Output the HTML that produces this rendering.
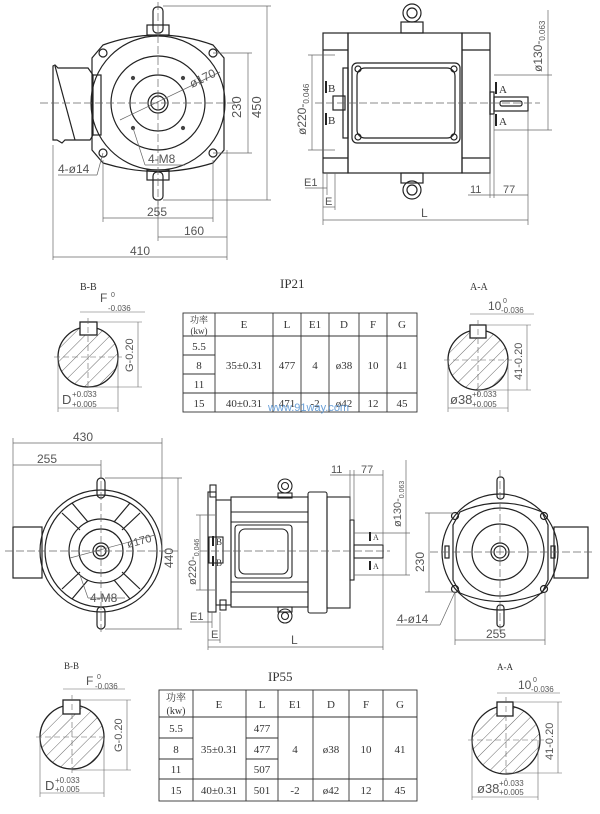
<!DOCTYPE html>
<html><head><meta charset="utf-8"><style>
html,body{margin:0;padding:0;background:#fff;}
svg{display:block;}
text{font-family:"Liberation Sans","Noto Sans CJK SC",sans-serif;fill:#555;}
.t{font-family:"Liberation Serif","Noto Serif CJK SC",serif;fill:#333;}
</style></head><body>
<svg width="600" height="814" viewBox="0 0 600 814" xmlns="http://www.w3.org/2000/svg">
<defs>
<pattern id="h" width="9" height="9" patternUnits="userSpaceOnUse" patternTransform="rotate(45)">
<line x1="0" y1="0" x2="0" y2="9" stroke="#444" stroke-width="0.8"/></pattern>
</defs>
<g fill="none" stroke="#222" stroke-width="1.2">
<!-- ===== TOP LEFT VIEW ===== -->
<rect x="153" y="7" width="10" height="26" rx="4"/>
<rect x="147" y="25" width="22" height="10"/>
<rect x="153" y="172" width="10" height="28" rx="4"/>
<rect x="147" y="170" width="22" height="10"/>
<path d="M103 45 Q158 25 213 45 L224 58 L224 150 L213 163 Q158 180 103 163 L92 150 L92 58 Z"/>
<circle cx="158" cy="103" r="67"/>
<circle cx="158" cy="103" r="47"/>
<circle cx="158" cy="103" r="28"/>
<circle cx="158" cy="103" r="10"/>
<circle cx="158" cy="103" r="7"/>
<circle cx="103" cy="53" r="4"/><circle cx="213" cy="53" r="4"/>
<circle cx="103" cy="153" r="4"/><circle cx="213" cy="153" r="4"/>
<path d="M93 75 L88 68 L58 68 L55 65 L53 66 L53 140 L57 140 L62 143 L65 140 L90 140 L93 135"/>
<path d="M55 66 L75 140"/>
<rect x="93" y="75" width="8" height="60"/>
</g>
<g stroke="#444" stroke-width="1.2" fill="#444">
<circle cx="133" cy="78" r="1.5"/><circle cx="183" cy="78" r="1.5"/>
<circle cx="133" cy="128" r="1.5"/><circle cx="183" cy="128" r="1.5"/>
</g>
<g fill="none" stroke="#666" stroke-width="0.7">
<line x1="40" y1="103" x2="235" y2="103" stroke-dasharray="8,3"/>
<line x1="158" y1="2" x2="158" y2="205" stroke-dasharray="8,3"/>
<line x1="213" y1="53" x2="252" y2="53"/><line x1="213" y1="153" x2="252" y2="153"/>
<line x1="248" y1="53" x2="248" y2="153"/>
<line x1="163" y1="6" x2="271" y2="6"/><line x1="163" y1="200" x2="271" y2="200"/>
<line x1="267" y1="6" x2="267" y2="200"/>
<line x1="103" y1="160" x2="103" y2="222"/><line x1="213" y1="160" x2="213" y2="222"/>
<line x1="103" y1="218" x2="213" y2="218"/>
<line x1="158" y1="200" x2="158" y2="241"/><line x1="227" y1="150" x2="227" y2="260"/>
<line x1="158" y1="237" x2="227" y2="237"/>
<line x1="53" y1="145" x2="53" y2="260"/>
<line x1="53" y1="257" x2="227" y2="257"/>
<line x1="58" y1="175" x2="97" y2="175"/><line x1="97" y1="175" x2="103" y2="153"/>
<line x1="145" y1="165" x2="185" y2="165"/><line x1="145" y1="165" x2="133" y2="128"/>
<line x1="120" y1="120" x2="220" y2="72"/>
</g>
<text x="241" y="118" font-size="13" transform="rotate(-90 241 118)">230</text>
<text x="261" y="118" font-size="13" transform="rotate(-90 261 118)">450</text>
<text x="147" y="216" font-size="12">255</text>
<text x="184" y="235" font-size="12">160</text>
<text x="130" y="255" font-size="12">410</text>
<text x="58" y="173" font-size="12">4-ø14</text>
<text x="148" y="163" font-size="12">4-M8</text>
<text x="192" y="88" font-size="12" transform="rotate(-26 192 88)">ø170</text>

<!-- ===== TOP RIGHT VIEW ===== -->
<g fill="none" stroke="#222" stroke-width="1.2">
<rect x="323" y="33" width="25" height="140"/>
<rect x="348" y="33" width="114" height="140"/>
<rect x="462" y="33" width="28" height="140"/>
<line x1="323" y1="50" x2="348" y2="50"/><line x1="323" y1="158" x2="348" y2="158"/>
<line x1="462" y1="50" x2="490" y2="50"/><line x1="462" y1="158" x2="490" y2="158"/>
<rect x="352" y="63" width="108" height="80" rx="5"/>
<rect x="357" y="68" width="98" height="70" rx="8"/>
<circle cx="358" cy="69" r="3"/><circle cx="454" cy="69" r="3"/>
<circle cx="358" cy="137" r="3"/><circle cx="454" cy="137" r="3"/>
<rect x="343" y="68" width="5" height="70"/>
<rect x="333" y="96" width="12" height="14"/>
<rect x="490" y="92" width="4" height="22"/>
<rect x="494" y="97" width="34" height="14"/>
<rect x="500" y="101" width="22" height="5" rx="2"/>
<circle cx="412" cy="13" r="9"/><circle cx="412" cy="13" r="5"/>
<rect x="401" y="22" width="22" height="11"/>
<circle cx="412" cy="190" r="9"/><circle cx="412" cy="190" r="5"/>
<rect x="401" y="173" width="22" height="10"/>
</g>
<g fill="none" stroke="#666" stroke-width="0.7">
<line x1="315" y1="103" x2="540" y2="103" stroke-dasharray="8,3"/>
<line x1="308" y1="55" x2="335" y2="55"/><line x1="308" y1="150" x2="335" y2="150"/>
<line x1="312" y1="55" x2="312" y2="150"/>
<line x1="494" y1="75" x2="552" y2="75"/><line x1="494" y1="130" x2="552" y2="130"/>
<line x1="548" y1="10" x2="548" y2="130"/>
<line x1="323" y1="173" x2="323" y2="225"/><line x1="327" y1="173" x2="327" y2="195"/>
<line x1="335" y1="173" x2="335" y2="210"/>
<line x1="305" y1="188" x2="327" y2="188"/><line x1="323" y1="207" x2="335" y2="207"/>
<line x1="323" y1="220" x2="528" y2="220"/>
<line x1="490" y1="115" x2="490" y2="198"/><line x1="494" y1="115" x2="494" y2="198"/>
<line x1="528" y1="111" x2="528" y2="225"/>
<line x1="468" y1="195" x2="528" y2="195"/>
</g>
<g fill="#222"><rect x="495" y="82" width="2" height="12"/><rect x="495" y="114" width="2" height="12"/>
<rect x="325" y="81" width="2" height="12"/><rect x="325" y="113" width="2" height="12"/></g>
<text x="499" y="93" font-size="11" class="t">A</text><text x="499" y="125" font-size="11" class="t">A</text>
<text x="328" y="92" font-size="11" class="t">B</text><text x="328" y="124" font-size="11" class="t">B</text>
<text x="306" y="135" font-size="12" transform="rotate(-90 306 135)">ø220-<tspan font-size="8" dy="3">0.046</tspan></text>
<text x="542" y="72" font-size="12" transform="rotate(-90 542 72)">ø130-<tspan font-size="8" dy="3">0.063</tspan></text>
<text x="304" y="186" font-size="11">E1</text>
<text x="325" y="205" font-size="11">E</text>
<text x="421" y="217" font-size="12">L</text>
<text x="470" y="193" font-size="11">11</text>
<text x="503" y="193" font-size="11">77</text>

<!-- ===== IP21 ===== -->
<text x="280" y="288" font-size="13" class="t">IP21</text>
<text x="80" y="290" font-size="10" class="t">B-B</text>
<text x="100" y="302" font-size="12">F</text><text x="111" y="297" font-size="7">0</text><text x="108" y="311" font-size="8">-0.036</text>
<circle cx="88" cy="357" r="30" fill="url(#h)" stroke="#222" stroke-width="1.3"/>
<rect x="80" y="322" width="17" height="13" fill="#fff" stroke="#222" stroke-width="1.3"/>
<g stroke="#666" stroke-width="0.6" fill="none">
<line x1="54" y1="357" x2="122" y2="357" stroke-dasharray="6,3"/><line x1="88" y1="318" x2="88" y2="392" stroke-dasharray="6,3"/>
<line x1="80" y1="312" x2="145" y2="312"/><line x1="97" y1="322" x2="142" y2="322"/><line x1="88" y1="387" x2="142" y2="387"/>
<line x1="138" y1="322" x2="138" y2="387"/>
<line x1="58" y1="357" x2="58" y2="412"/><line x1="118" y1="357" x2="118" y2="412"/><line x1="58" y1="408" x2="118" y2="408"/>
</g>
<text x="133" y="372" font-size="11" transform="rotate(-90 133 372)">G-0.20</text>
<text x="62" y="404" font-size="13">D</text><text x="72" y="397" font-size="8">+0.033</text><text x="72" y="407" font-size="8">+0.005</text>

<text x="470" y="290" font-size="10" class="t">A-A</text>
<text x="488" y="310" font-size="12">10</text><text x="503" y="303" font-size="7">0</text><text x="501" y="313" font-size="8">-0.036</text>
<circle cx="478" cy="360" r="30" fill="url(#h)" stroke="#222" stroke-width="1.3"/>
<rect x="470" y="325" width="16" height="13" fill="#fff" stroke="#222" stroke-width="1.3"/>
<g stroke="#666" stroke-width="0.6" fill="none">
<line x1="444" y1="360" x2="512" y2="360" stroke-dasharray="6,3"/><line x1="478" y1="320" x2="478" y2="395" stroke-dasharray="6,3"/>
<line x1="470" y1="314" x2="534" y2="314"/><line x1="486" y1="325" x2="531" y2="325"/><line x1="478" y1="390" x2="531" y2="390"/>
<line x1="527" y1="325" x2="527" y2="390"/>
<line x1="448" y1="360" x2="448" y2="412"/><line x1="508" y1="360" x2="508" y2="412"/><line x1="448" y1="408" x2="508" y2="408"/>
</g>
<text x="522" y="380" font-size="11" transform="rotate(-90 522 380)">41-0.20</text>
<text x="450" y="404" font-size="13">ø38</text><text x="472" y="397" font-size="8">+0.033</text><text x="472" y="407" font-size="8">+0.005</text>

<g stroke="#333" stroke-width="0.9" fill="none">
<rect x="183" y="313" width="234" height="99"/>
<line x1="183" y1="336" x2="417" y2="336"/><line x1="183" y1="393" x2="417" y2="393"/>
<line x1="183" y1="355" x2="215" y2="355"/><line x1="183" y1="374" x2="215" y2="374"/>
<line x1="215" y1="313" x2="215" y2="412"/><line x1="273" y1="313" x2="273" y2="412"/>
<line x1="301" y1="313" x2="301" y2="412"/><line x1="329" y1="313" x2="329" y2="412"/>
<line x1="359" y1="313" x2="359" y2="412"/><line x1="387" y1="313" x2="387" y2="412"/>
</g>
<g class="t" font-size="11" text-anchor="middle">
<text class="t" x="199" y="323" font-size="9">功率</text><text class="t" x="199" y="334" font-size="9">(kw)</text>
<text class="t" x="244" y="328">E</text><text class="t" x="287" y="328">L</text><text class="t" x="315" y="328">E1</text>
<text class="t" x="344" y="328">D</text><text class="t" x="373" y="328">F</text><text class="t" x="402" y="328">G</text>
<text class="t" x="199" y="350">5.5</text><text class="t" x="199" y="369">8</text><text class="t" x="199" y="388">11</text><text class="t" x="199" y="407">15</text>
<text class="t" x="244" y="369">35±0.31</text><text class="t" x="287" y="369">477</text><text class="t" x="315" y="369">4</text>
<text class="t" x="344" y="369">ø38</text><text class="t" x="373" y="369">10</text><text class="t" x="402" y="369">41</text>
<text class="t" x="244" y="407">40±0.31</text><text class="t" x="287" y="407">471</text><text class="t" x="315" y="407">-2</text>
<text class="t" x="344" y="407">ø42</text><text class="t" x="373" y="407">12</text><text class="t" x="402" y="407">45</text>
</g>
<text x="268" y="411" font-size="11" style="fill:#6aa0d8">www.91way.com</text>

<!-- ===== BOTTOM LEFT VIEW ===== -->
<g fill="none" stroke="#222" stroke-width="1.2">
<rect x="13" y="527" width="29" height="51"/>
<rect x="97" y="478" width="8" height="20" rx="4"/>
<rect x="97" y="607" width="8" height="22" rx="4"/>
<circle cx="101" cy="551" r="61"/>
<circle cx="101" cy="551" r="56"/>
<circle cx="101" cy="551" r="32"/>
<circle cx="101" cy="551" r="22"/>
<circle cx="101" cy="551" r="8"/><circle cx="101" cy="551" r="5"/>
<path d="M62 513 L80 530 M72 503 L88 522 M140 513 L122 530 M130 503 L114 522 M62 589 L80 572 M72 599 L88 580 M140 589 L122 572 M130 599 L114 580"/>
</g>
<g fill="none" stroke="#666" stroke-width="0.7">
<line x1="5" y1="551" x2="180" y2="551" stroke-dasharray="8,3"/>
<line x1="101" y1="470" x2="101" y2="635" stroke-dasharray="8,3"/>
<line x1="13" y1="438" x2="13" y2="527"/><line x1="162" y1="438" x2="162" y2="551"/>
<line x1="13" y1="443" x2="162" y2="443"/>
<line x1="101" y1="460" x2="101" y2="478"/><line x1="13" y1="465" x2="101" y2="465"/>
<line x1="105" y1="478" x2="182" y2="478"/><line x1="105" y1="629" x2="182" y2="629"/>
<line x1="178" y1="478" x2="178" y2="629"/>
<line x1="88" y1="598" x2="125" y2="598"/><line x1="88" y1="598" x2="80" y2="575"/>
<line x1="70" y1="558" x2="155" y2="535"/>
</g>
<text x="73" y="441" font-size="12">430</text>
<text x="37" y="463" font-size="12">255</text>
<text x="173" y="568" font-size="12" transform="rotate(-90 173 568)">440</text>
<text x="90" y="602" font-size="12">4-M8</text>
<text x="128" y="548" font-size="11" transform="rotate(-15 128 548)">ø170</text>

<!-- ===== BOTTOM MIDDLE VIEW ===== -->
<g fill="none" stroke="#222" stroke-width="1.1">
<rect x="208" y="492" width="8" height="120"/>
<rect x="210" y="485" width="6" height="12"/><rect x="220" y="600" width="6" height="10"/>
<rect x="216" y="500" width="15" height="105"/>
<rect x="231" y="497" width="77" height="110"/>
<line x1="231" y1="512" x2="308" y2="512"/><line x1="231" y1="522" x2="308" y2="522"/>
<line x1="231" y1="582" x2="308" y2="582"/><line x1="231" y1="592" x2="308" y2="592"/>
<rect x="235" y="525" width="57" height="53" rx="3"/>
<rect x="239" y="529" width="49" height="45" rx="6"/>
<rect x="209" y="537" width="14" height="26"/>
<rect x="308" y="492" width="19" height="121" rx="2"/>
<rect x="327" y="497" width="23" height="111"/>
<rect x="350" y="520" width="4" height="60"/>
<rect x="354" y="545" width="29" height="13"/>
<circle cx="285" cy="486" r="7"/><circle cx="285" cy="486" r="3.5"/>
<rect x="278" y="493" width="14" height="5"/>
<circle cx="285" cy="616" r="7"/><circle cx="285" cy="616" r="3.5"/>
<rect x="278" y="607" width="14" height="5"/>
</g>
<g fill="none" stroke="#666" stroke-width="0.7">
<line x1="200" y1="551" x2="390" y2="551" stroke-dasharray="8,3"/>
<line x1="196" y1="515" x2="215" y2="515"/><line x1="196" y1="590" x2="215" y2="590"/>
<line x1="200" y1="515" x2="200" y2="590"/>
<line x1="354" y1="533" x2="410" y2="533"/><line x1="354" y1="575" x2="410" y2="575"/>
<line x1="406" y1="460" x2="406" y2="575"/>
<line x1="208" y1="612" x2="208" y2="650"/><line x1="212" y1="612" x2="212" y2="628"/><line x1="220" y1="612" x2="220" y2="643"/>
<line x1="190" y1="622" x2="212" y2="622"/><line x1="208" y1="640" x2="220" y2="640"/>
<line x1="208" y1="647" x2="383" y2="647"/>
<line x1="383" y1="558" x2="383" y2="650"/>
<line x1="350" y1="470" x2="350" y2="520"/><line x1="354" y1="470" x2="354" y2="520"/>
<line x1="383" y1="470" x2="383" y2="545"/>
<line x1="330" y1="475" x2="383" y2="475"/>
</g>
<g fill="#222"><rect x="369" y="532" width="2" height="9"/><rect x="369" y="561" width="2" height="9"/>
<rect x="212" y="536" width="2" height="10"/><rect x="212" y="556" width="2" height="10"/></g>
<text x="373" y="540" font-size="8" class="t">A</text><text x="373" y="569" font-size="8" class="t">A</text>
<text x="216" y="545" font-size="9" class="t">B</text><text x="216" y="566" font-size="9" class="t">B</text>
<text x="196" y="585" font-size="11" transform="rotate(-90 196 585)">ø220-<tspan font-size="7" dy="3">0.046</tspan></text>
<text x="401" y="527" font-size="11" transform="rotate(-90 401 527)">ø130-<tspan font-size="7" dy="3">0.063</tspan></text>
<text x="190" y="620" font-size="11">E1</text>
<text x="211" y="638" font-size="11">E</text>
<text x="291" y="644" font-size="12">L</text>
<text x="331" y="473" font-size="11">11</text>
<text x="361" y="473" font-size="11">77</text>

<!-- ===== BOTTOM RIGHT VIEW ===== -->
<g fill="none" stroke="#222" stroke-width="1.2">
<rect x="554" y="527" width="34" height="51"/>
<rect x="497" y="477" width="7" height="22" rx="3"/>
<rect x="497" y="605" width="7" height="22" rx="3"/>
<path d="M460 512 Q500 494 542 512 L548 525 L548 580 L542 593 Q500 610 460 593 L453 580 L453 525 Z"/>
<circle cx="500" cy="552" r="58"/>
<circle cx="500" cy="552" r="44"/>
<circle cx="500" cy="552" r="28"/>
<circle cx="500" cy="552" r="9"/><circle cx="500" cy="552" r="6"/>
<circle cx="455" cy="516" r="3.5"/><circle cx="544" cy="516" r="3.5"/>
<circle cx="455" cy="589" r="3.5"/><circle cx="544" cy="589" r="3.5"/>
<rect x="445" y="546" width="4" height="12"/><rect x="551" y="546" width="4" height="12"/>
</g>
<g fill="none" stroke="#666" stroke-width="0.7">
<line x1="430" y1="552" x2="595" y2="552" stroke-dasharray="8,3"/>
<line x1="500" y1="470" x2="500" y2="635" stroke-dasharray="8,3"/>
<line x1="425" y1="513" x2="455" y2="513"/><line x1="425" y1="592" x2="455" y2="592"/>
<line x1="429" y1="513" x2="429" y2="592"/>
<line x1="455" y1="592" x2="455" y2="645"/><line x1="545" y1="592" x2="545" y2="645"/>
<line x1="455" y1="640" x2="545" y2="640"/>
<line x1="396" y1="625" x2="440" y2="625"/><line x1="440" y1="625" x2="455" y2="592"/>
</g>
<text x="424" y="572" font-size="12" transform="rotate(-90 424 572)">230</text>
<text x="486" y="638" font-size="12">255</text>
<text x="397" y="623" font-size="12">4-ø14</text>

<!-- ===== IP55 ===== -->
<text x="268" y="681" font-size="13" class="t">IP55</text>
<text x="64" y="669" font-size="9" class="t">B-B</text>
<text x="86" y="685" font-size="12">F</text><text x="97" y="679" font-size="7">0</text><text x="95" y="689" font-size="8">-0.036</text>
<circle cx="72" cy="737" r="32" fill="url(#h)" stroke="#222" stroke-width="1.3"/>
<rect x="63" y="700" width="17" height="14" fill="#fff" stroke="#222" stroke-width="1.3"/>
<g stroke="#666" stroke-width="0.6" fill="none">
<line x1="36" y1="737" x2="108" y2="737" stroke-dasharray="6,3"/><line x1="72" y1="695" x2="72" y2="775" stroke-dasharray="6,3"/>
<line x1="63" y1="689" x2="125" y2="689"/><line x1="80" y1="700" x2="131" y2="700"/><line x1="72" y1="770" x2="131" y2="770"/>
<line x1="127" y1="700" x2="127" y2="770"/>
<line x1="40" y1="737" x2="40" y2="797"/><line x1="104" y1="737" x2="104" y2="797"/><line x1="40" y1="793" x2="104" y2="793"/>
</g>
<text x="122" y="752" font-size="11" transform="rotate(-90 122 752)">G-0.20</text>
<text x="45" y="790" font-size="13">D</text><text x="55" y="783" font-size="8">+0.033</text><text x="55" y="792" font-size="8">+0.005</text>

<text x="497" y="670" font-size="9" class="t">A-A</text>
<text x="518" y="689" font-size="12">10</text><text x="533" y="682" font-size="7">0</text><text x="531" y="692" font-size="8">-0.036</text>
<circle cx="506" cy="740" r="34" fill="url(#h)" stroke="#222" stroke-width="1.3"/>
<rect x="497" y="702" width="16" height="14" fill="#fff" stroke="#222" stroke-width="1.3"/>
<g stroke="#666" stroke-width="0.6" fill="none">
<line x1="468" y1="740" x2="544" y2="740" stroke-dasharray="6,3"/><line x1="506" y1="697" x2="506" y2="780" stroke-dasharray="6,3"/>
<line x1="497" y1="693" x2="560" y2="693"/><line x1="513" y1="702" x2="562" y2="702"/><line x1="506" y1="773" x2="562" y2="773"/>
<line x1="558" y1="702" x2="558" y2="773"/>
<line x1="472" y1="740" x2="472" y2="800"/><line x1="538" y1="740" x2="538" y2="800"/><line x1="472" y1="797" x2="538" y2="797"/>
</g>
<text x="553" y="760" font-size="11" transform="rotate(-90 553 760)">41-0.20</text>
<text x="477" y="793" font-size="13">ø38</text><text x="499" y="786" font-size="8">+0.033</text><text x="499" y="795" font-size="8">+0.005</text>

<g stroke="#333" stroke-width="0.9" fill="none">
<rect x="159" y="690" width="258" height="111"/>
<line x1="159" y1="717" x2="417" y2="717"/><line x1="159" y1="779" x2="417" y2="779"/>
<line x1="159" y1="738" x2="193" y2="738"/><line x1="159" y1="759" x2="193" y2="759"/>
<line x1="246" y1="738" x2="278" y2="738"/><line x1="246" y1="759" x2="278" y2="759"/>
<line x1="193" y1="690" x2="193" y2="801"/><line x1="246" y1="690" x2="246" y2="801"/>
<line x1="278" y1="690" x2="278" y2="801"/><line x1="313" y1="690" x2="313" y2="801"/>
<line x1="349" y1="690" x2="349" y2="801"/><line x1="383" y1="690" x2="383" y2="801"/>
</g>
<g font-size="11" text-anchor="middle">
<text class="t" x="176" y="701" font-size="10">功率</text><text class="t" x="176" y="714" font-size="10">(kw)</text>
<text class="t" x="219" y="708">E</text><text class="t" x="262" y="708">L</text><text class="t" x="295" y="708">E1</text>
<text class="t" x="331" y="708">D</text><text class="t" x="366" y="708">F</text><text class="t" x="400" y="708">G</text>
<text class="t" x="176" y="732">5.5</text><text class="t" x="176" y="753">8</text><text class="t" x="176" y="773">11</text><text class="t" x="176" y="794">15</text>
<text class="t" x="262" y="732">477</text><text class="t" x="262" y="753">477</text><text class="t" x="262" y="773">507</text>
<text class="t" x="219" y="753">35±0.31</text><text class="t" x="295" y="753">4</text>
<text class="t" x="331" y="753">ø38</text><text class="t" x="366" y="753">10</text><text class="t" x="400" y="753">41</text>
<text class="t" x="219" y="794">40±0.31</text><text class="t" x="262" y="794">501</text><text class="t" x="295" y="794">-2</text>
<text class="t" x="331" y="794">ø42</text><text class="t" x="366" y="794">12</text><text class="t" x="400" y="794">45</text>
</g>
</svg>
</body></html>
